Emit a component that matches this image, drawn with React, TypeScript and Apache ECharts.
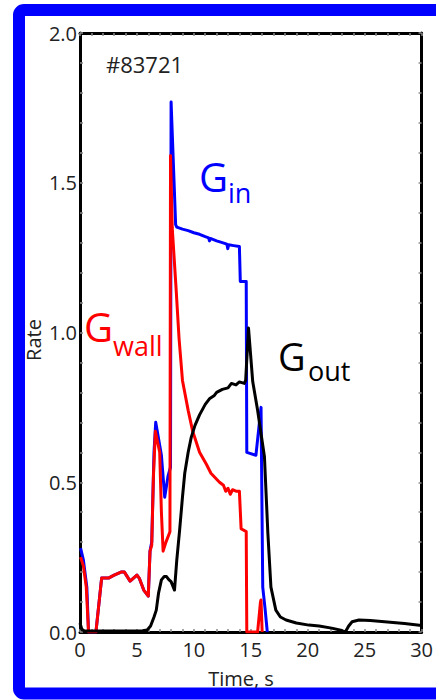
import React, { useEffect, useRef } from "react";
import * as echarts from "echarts";

// Shot #83721: particle rates vs time
const ginT = [0.05, 0.3, 0.6, 0.75, 1.4, 1.9, 2.5, 3.0, 3.6, 3.9, 4.4, 5.0, 5.2, 5.6, 6.0, 6.15, 6.3, 6.5, 6.65, 7.15, 7.44, 7.73, 7.95, 8.0, 8.4, 8.5, 9.0, 9.5, 10.0, 10.5, 11.0, 11.3, 11.37, 11.45, 12.0, 12.5, 12.9, 12.98, 13.06, 13.5, 14.0, 14.08, 14.6, 14.65, 15.45, 15.9, 16.05, 16.25, 16.45];
const ginV = [0.28, 0.24, 0.15, 0.0, 0.0, 0.18, 0.18, 0.19, 0.2, 0.2, 0.17, 0.19, 0.18, 0.14, 0.12, 0.27, 0.3, 0.6, 0.7, 0.59, 0.45, 0.52, 0.55, 1.77, 1.36, 1.352, 1.345, 1.34, 1.333, 1.328, 1.32, 1.316, 1.306, 1.314, 1.306, 1.3, 1.295, 1.28, 1.293, 1.29, 1.287, 1.17, 1.17, 0.6, 0.59, 0.75, 0.15, 0.08, 0.0];

const gwallT = [0.05, 0.3, 0.55, 0.75, 1.4, 1.9, 2.5, 3.0, 3.6, 3.9, 4.4, 5.0, 5.2, 5.6, 6.0, 6.15, 6.3, 6.45, 6.62, 7.0, 7.15, 7.3, 7.55, 7.9, 7.95, 8.1, 8.45, 8.7, 9.0, 9.5, 9.9, 10.5, 11.1, 11.5, 12.0, 12.25, 12.6, 12.8, 13.0, 13.2, 13.4, 13.7, 14.0, 14.15, 14.6, 14.65, 15.6, 15.85, 15.9, 16.0];
const gwallV = [0.25, 0.22, 0.15, 0.0, 0.0, 0.18, 0.18, 0.19, 0.2, 0.2, 0.17, 0.19, 0.18, 0.14, 0.12, 0.27, 0.29, 0.52, 0.67, 0.6, 0.4, 0.27, 0.3, 0.335, 1.59, 1.35, 1.14, 0.98, 0.84, 0.74, 0.67, 0.6, 0.56, 0.53, 0.51, 0.5, 0.49, 0.47, 0.48, 0.46, 0.475, 0.47, 0.47, 0.345, 0.335, 0.0, 0.0, 0.1, 0.107, 0.0];

const goutT = [0.0, 0.15, 0.4, 3.0, 5.5, 5.9, 6.2, 6.5, 6.7, 6.9, 7.15, 7.4, 7.6, 7.8, 8.0, 8.3, 8.5, 8.75, 9.0, 9.2, 9.5, 9.77, 10.1, 10.5, 11.0, 11.4, 11.8, 12.0, 12.5, 13.0, 13.3, 13.7, 14.0, 14.43, 14.55, 14.8, 15.17, 15.6, 16.2, 16.5, 16.77, 17.2, 17.6, 18.1, 19.0, 20.1, 21.0, 22.1, 23.0, 23.3, 23.6, 23.9, 24.5, 25.5, 27.0, 28.5, 30.0];
const goutV = [0.03, 0.01, 0.003, 0.003, 0.004, 0.007, 0.02, 0.05, 0.073, 0.13, 0.174, 0.185, 0.185, 0.175, 0.168, 0.14, 0.24, 0.34, 0.45, 0.53, 0.6, 0.65, 0.69, 0.725, 0.76, 0.78, 0.79, 0.8, 0.81, 0.815, 0.83, 0.825, 0.835, 0.83, 0.84, 1.015, 0.836, 0.74, 0.585, 0.33, 0.15, 0.073, 0.05, 0.04, 0.03, 0.023, 0.02, 0.013, 0.005, 0.0, 0.02, 0.034, 0.04, 0.038, 0.033, 0.028, 0.022];

const xTicks = [0, 5, 10, 15, 20, 25, 30];
const yTicks = [0, 0.5, 1.0, 1.5, 2.0];

const FONT = "'Open Sans', 'Noto Sans', sans-serif";
const TXT = "#222";

const pairs = (t: number[], v: number[]) => t.map((x, i) => [x, v[i]]);

export default function App() {
  const ref = useRef<HTMLDivElement>(null);

  useEffect(() => {
    if (!ref.current) return;
    const chart = echarts.init(ref.current, null, { renderer: "svg" });

    const frameLine = { show: true, onZero: false, lineStyle: { color: "#000", width: 3 } };
    const grayTick = { show: true, inside: true, length: 3, lineStyle: { color: "#8a8a8a", width: 1.5 } };
    const minor = { show: true, splitNumber: 5, length: 3, lineStyle: { color: "#8a8a8a", width: 1.5 } };

    const xBase = {
      type: "value" as const,
      min: xTicks[0],
      max: xTicks[xTicks.length - 1],
      interval: 5,
      axisLine: frameLine,
      axisTick: grayTick,
      minorTick: minor,
      splitLine: { show: false },
    };
    const yBase = {
      type: "value" as const,
      min: yTicks[0],
      max: yTicks[yTicks.length - 1],
      interval: 0.5,
      axisLine: frameLine,
      axisTick: grayTick,
      minorTick: minor,
      splitLine: { show: false },
    };

    const line = (name: string, data: number[][], color: string, z: number) => ({
      name,
      type: "line" as const,
      data,
      showSymbol: false,
      symbol: "none",
      lineStyle: { color, width: 3, join: "round" },
      z,
    });

    // big "G" plus a lowered subscript, placed by cap-top (y) and subscript top (ys)
    const glabel = (x: number, y: number, xs: number, ys: number, sub: string, color: string, size: number) => [
      {
        type: "text",
        x,
        y,
        z: 50,
        style: { text: "G", fontSize: size, fill: color, fontFamily: FONT, verticalAlign: "top" },
      },
      {
        type: "text",
        x: xs,
        y: ys,
        z: 50,
        style: { text: sub, fontSize: 27, fill: color, fontFamily: FONT, verticalAlign: "top" },
      },
    ];

    chart.setOption({
      animation: false,
      backgroundColor: "#fff",
      grid: { left: 80, right: 13, top: 33, bottom: 68 },
      xAxis: [
        {
          ...xBase,
          position: "bottom",
          axisLabel: { show: true, fontSize: 20, color: TXT, fontFamily: FONT, margin: 7 },
        },
        { ...xBase, position: "top", axisLabel: { show: false } },
      ],
      yAxis: [
        {
          ...yBase,
          position: "left",
          axisLabel: {
            show: true,
            fontSize: 20,
            color: TXT,
            fontFamily: FONT,
            margin: 3,
            formatter: (v: number) => v.toFixed(1),
          },
        },
        { ...yBase, position: "right", axisLabel: { show: false } },
      ],
      series: [
        line("Gin", pairs(ginT, ginV), "#0000ff", 2),
        line("Gwall", pairs(gwallT, gwallV), "#ff0000", 3),
        line("Gout", pairs(goutT, goutV), "#000000", 4),
      ],
      graphic: [
        {
          type: "rect",
          z: 100,
          shape: { x: 19, y: 10, width: 440, height: 683.5, r: 5 },
          style: { fill: "none", stroke: "#0000ff", lineWidth: 12 },
        },
        {
          type: "text",
          x: 106,
          y: 64,
          style: { text: "#83721", fontSize: 22, fill: TXT, fontFamily: FONT, verticalAlign: "middle" },
        },
        {
          type: "text",
          x: 241,
          y: 678,
          style: { text: "Time, s", fontSize: 20, fill: TXT, fontFamily: FONT, align: "center", verticalAlign: "middle" },
        },
        {
          type: "text",
          x: 33,
          y: 340,
          rotation: Math.PI / 2,
          style: { text: "Rate", fontSize: 20, fill: TXT, fontFamily: FONT, align: "center", verticalAlign: "middle" },
        },
        ...glabel(199, 156.5, 228, 179, "in", "#0000ff", 40),
        ...glabel(84, 306.5, 113, 332, "wall", "#ff0000", 40),
        ...glabel(278, 337, 308, 357, "out", "#000", 38),
      ],
    });

    return () => chart.dispose();
  }, []);

  return (
    <div
      ref={ref}
      style={{ position: "absolute", left: 0, top: 0, width: 436, height: 700 }}
    />
  );
}
